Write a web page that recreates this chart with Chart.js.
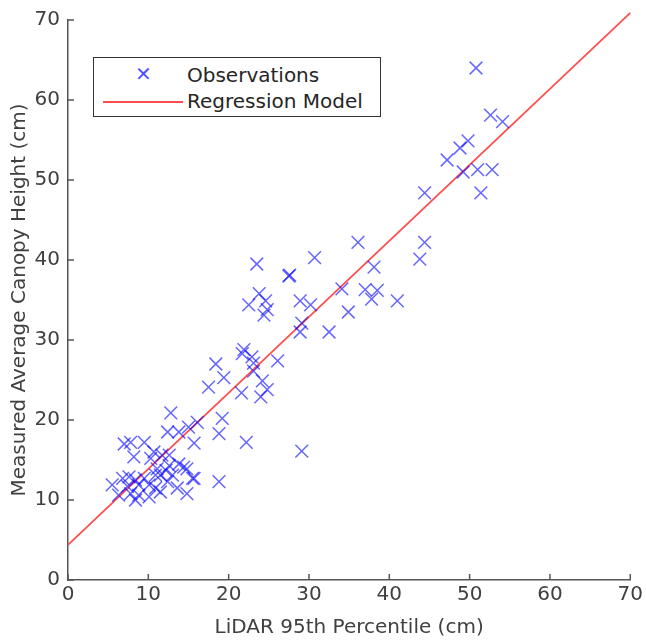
<!DOCTYPE html>
<html>
<head>
<meta charset="utf-8">
<script src="https://cdn.jsdelivr.net/npm/chart.js@4"></script>
<style>
  html, body { margin: 0; padding: 0; background: #fff; }
  #wrap { position: relative; width: 646px; height: 644px; }
  #legend {
    position: absolute; left: 93px; top: 57px; width: 286px; height: 58px;
    border: 1px solid #333; background: #fff;
    font-family: "DejaVu Sans", sans-serif; font-size: 20px; color: #262626;
  }
  #legend .row { position: absolute; left: 0; height: 24px; line-height: 24px; }
  #legend .txt { position: absolute; left: 93px; white-space: nowrap; }
</style>
</head>
<body>
<div id="wrap">
  <canvas id="chart" width="646" height="644"></canvas>
  <div id="legend">
    <div class="row" style="top:5px;width:100%">
      <span style="position:absolute;left:41px;top:-1px;color:rgba(0,0,255,0.7);font-size:20px">&#x2715;</span>
      <span class="txt">Observations</span>
    </div>
    <div class="row" style="top:31px;width:100%">
      <span style="position:absolute;left:9px;top:12px;width:80px;height:2px;background:#ff4d4d"></span>
      <span class="txt">Regression Model</span>
    </div>
  </div>
</div>
<script>
// lidar 95th percentile (cm) vs measured canopy height (cm)
const lidarX = [
  50.8, 52.6, 54.1, 49.8, 48.8, 47.2, 49.2, 51.0, 52.8, 51.4, 44.4, 36.1, 44.4, 43.8, 38.1,
  34.1, 37.0, 38.5, 37.8, 41.0, 34.9,
  30.7, 23.5, 27.5, 27.6, 28.9, 30.2, 23.8, 24.6, 22.5, 24.8, 24.4, 29.1, 28.9, 32.5,
  21.9, 21.7, 22.9, 23.1, 26.1, 18.4, 23.1, 19.4, 24.2, 17.5, 24.8, 21.6, 24.0,
  12.8, 19.2, 16.1, 15.0, 12.4, 18.8, 15.7, 22.2, 29.1, 13.8,
  7.0, 7.8, 9.5, 8.2, 10.7, 10.3, 11.7, 12.6, 12.6, 13.8, 11.1, 12.2, 14.4, 15.5,
  7.6, 6.8, 8.4, 9.5, 10.9, 11.5, 13.0, 12.4, 5.5, 7.4, 8.8, 10.1, 10.9, 13.6, 11.5,
  6.3, 7.8, 8.8, 10.1, 14.8, 8.4, 18.8, 14.8, 15.7
];
const canopyY = [
  64.0, 58.1, 57.3, 54.9, 54.0, 52.5, 51.0, 51.3, 51.3, 48.4, 48.4, 42.2, 42.2, 40.1, 39.1,
  36.4, 36.3, 36.2, 35.1, 34.9, 33.5,
  40.3, 39.5, 38.0, 38.1, 34.9, 34.4, 35.8, 34.9, 34.4, 33.8, 33.1, 32.1, 31.0, 31.0,
  28.8, 28.3, 27.9, 27.1, 27.4, 27.0, 26.1, 25.3, 24.9, 24.1, 23.8, 23.4, 22.9,
  20.9, 20.2, 19.7, 19.1, 18.5, 18.3, 17.1, 17.2, 16.1, 18.5,
  17.0, 17.2, 17.2, 15.4, 16.0, 15.2, 15.6, 15.6, 14.3, 14.5, 13.9, 13.7, 14.1, 12.7,
  12.9, 12.7, 12.5, 12.7, 13.1, 13.1, 13.1, 12.3, 11.9, 11.7, 11.9, 11.9, 11.5, 11.5, 11.0,
  10.6, 10.8, 10.6, 10.4, 10.8, 10.0, 12.3, 13.9, 12.7
];
// regression model end points
const modelX = [0, 70];
const modelY = [4.4, 70.9];
const ticks = [0, 10, 20, 30, 40, 50, 60, 70];

const axisColor = '#555555';
const textColor = '#404040';
const font = { family: 'DejaVu Sans', size: 20 };

const obs = lidarX.map((x, i) => ({ x: x, y: canopyY[i] }));
const model = modelX.map((x, i) => ({ x: x, y: modelY[i] }));

// matlab style inward ticks
const innerTicks = {
  id: 'innerTicks',
  afterDraw(chart) {
    const ctx = chart.ctx;
    const xs = chart.scales.x, ys = chart.scales.y;
    const area = chart.chartArea;
    ctx.save();
    ctx.strokeStyle = axisColor;
    ctx.lineWidth = 1.5;
    ticks.forEach(t => {
      const px = xs.getPixelForValue(t);
      ctx.beginPath();
      ctx.moveTo(px, area.bottom);
      ctx.lineTo(px, area.bottom - 6);
      ctx.stroke();
      const py = ys.getPixelForValue(t);
      ctx.beginPath();
      ctx.moveTo(area.left, py);
      ctx.lineTo(area.left + 6, py);
      ctx.stroke();
    });
    ctx.restore();
  }
};

new Chart(document.getElementById('chart'), {
  type: 'scatter',
  data: {
    datasets: [
      {
        label: 'Observations',
        data: obs,
        pointStyle: 'crossRot',
        pointRadius: 9,
        pointHoverRadius: 9,
        borderWidth: 1.5,
        borderColor: 'rgba(0, 0, 255, 0.6)',
        backgroundColor: 'rgba(0, 0, 255, 0.6)'
      },
      {
        label: 'Regression Model',
        type: 'line',
        data: model,
        borderColor: '#ff4d4d',
        borderWidth: 1.8,
        pointRadius: 0,
        fill: false,
        clip: false
      }
    ]
  },
  options: {
    responsive: false,
    animation: false,
    layout: { padding: { top: 14, right: 15, left: 0, bottom: 0 } },
    plugins: { legend: { display: false }, tooltip: { enabled: false } },
    scales: {
      x: {
        type: 'linear', min: 0, max: 70,
        afterBuildTicks: s => { s.ticks = ticks.map(v => ({ value: v })); },
        afterFit: s => { s.height = 64; },
        grid: { drawOnChartArea: false, drawTicks: false },
        border: { color: axisColor, width: 1.5 },
        ticks: { color: textColor, font: font, padding: 3, maxRotation: 0 },
        title: { display: true, text: 'LiDAR 95th Percentile (cm)', color: textColor, font: font, padding: { top: 0 } }
      },
      y: {
        type: 'linear', min: 0, max: 70,
        afterBuildTicks: s => { s.ticks = ticks.map(v => ({ value: v })); },
        afterFit: s => { s.width = 68; },
        grid: { drawOnChartArea: false, drawTicks: false },
        border: { color: axisColor, width: 1.5 },
        ticks: { color: textColor, font: font, padding: 8 },
        title: { display: true, text: 'Measured Average Canopy Height (cm)', color: textColor, font: font, padding: { top: 8, bottom: 0 } }
      }
    }
  },
  plugins: [innerTicks]
});
</script>
</body>
</html>
